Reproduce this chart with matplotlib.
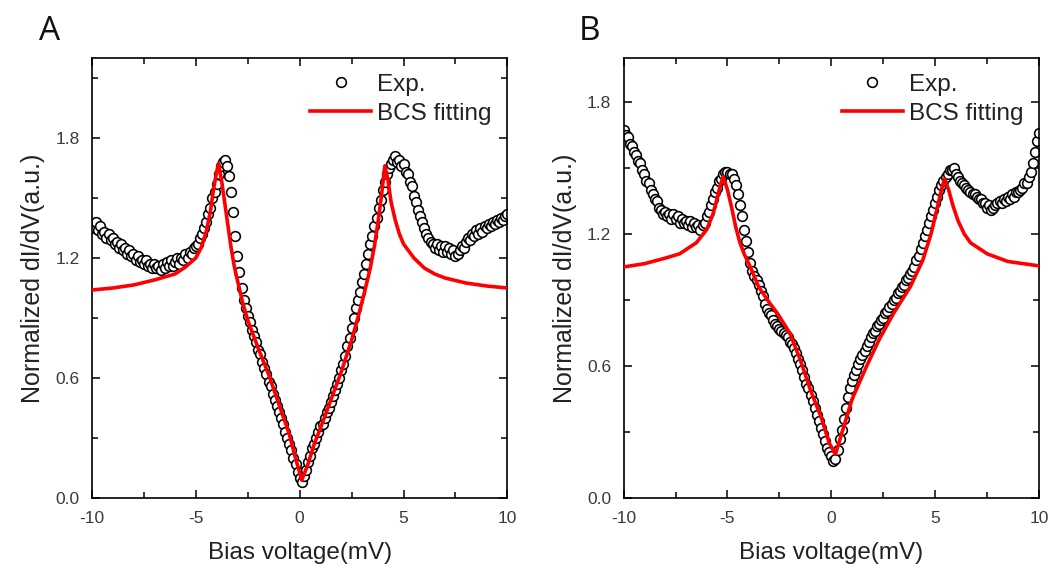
import matplotlib
matplotlib.use("Agg")
import matplotlib.pyplot as plt
from matplotlib.ticker import MultipleLocator, FormatStrFormatter

plt.rcParams['font.family'] = ['Liberation Sans', 'DejaVu Sans']
plt.rcParams['axes.unicode_minus'] = False

# -------------------------------------------------------------------
# Data
# -------------------------------------------------------------------
# bias sweep, mV (shared by both panels)
bias_mv = [
    -10.0, -9.9, -9.8, -9.7, -9.6, -9.5, -9.4, -9.3, -9.2, -9.1,
    -9.0, -8.9, -8.8, -8.7, -8.6, -8.5, -8.4, -8.3, -8.2, -8.1,
    -8.0, -7.9, -7.8, -7.7, -7.6, -7.5, -7.4, -7.3, -7.2, -7.1,
    -7.0, -6.9, -6.8, -6.7, -6.6, -6.5, -6.4, -6.3, -6.2, -6.1,
    -6.0, -5.9, -5.8, -5.7, -5.6, -5.5, -5.4, -5.3, -5.2, -5.1,
    -5.0, -4.9, -4.8, -4.7, -4.6, -4.5, -4.4, -4.3, -4.2, -4.1,
    -4.0, -3.9, -3.8, -3.7, -3.6, -3.5, -3.4, -3.3, -3.2, -3.1,
    -3.0, -2.9, -2.8, -2.7, -2.6, -2.5, -2.4, -2.3, -2.2, -2.1,
    -2.0, -1.9, -1.8, -1.7, -1.6, -1.5, -1.4, -1.3, -1.2, -1.1,
    -1.0, -0.9, -0.8, -0.7, -0.6, -0.5, -0.4, -0.3, -0.2, -0.1,
    0.0, 0.1, 0.2, 0.3, 0.4, 0.5, 0.6, 0.7, 0.8, 0.9,
    1.0, 1.1, 1.2, 1.3, 1.4, 1.5, 1.6, 1.7, 1.8, 1.9,
    2.0, 2.1, 2.2, 2.3, 2.4, 2.5, 2.6, 2.7, 2.8, 2.9,
    3.0, 3.1, 3.2, 3.3, 3.4, 3.5, 3.6, 3.7, 3.8, 3.9,
    4.0, 4.1, 4.2, 4.3, 4.4, 4.5, 4.6, 4.7, 4.8, 4.9,
    5.0, 5.1, 5.2, 5.3, 5.4, 5.5, 5.6, 5.7, 5.8, 5.9,
    6.0, 6.1, 6.2, 6.3, 6.4, 6.5, 6.6, 6.7, 6.8, 6.9,
    7.0, 7.1, 7.2, 7.3, 7.4, 7.5, 7.6, 7.7, 7.8, 7.9,
    8.0, 8.1, 8.2, 8.3, 8.4, 8.5, 8.6, 8.7, 8.8, 8.9,
    9.0, 9.1, 9.2, 9.3, 9.4, 9.5, 9.6, 9.7, 9.8, 9.9,
    10.0,
]

# panel A - measured dI/dV
exp_a = [
    1.37, 1.35, 1.38, 1.34, 1.36, 1.32, 1.33, 1.30, 1.32, 1.29,
    1.30, 1.27, 1.28, 1.25, 1.27, 1.24, 1.25, 1.22, 1.24, 1.21,
    1.22, 1.19, 1.21, 1.18, 1.19, 1.17, 1.19, 1.16, 1.17, 1.15,
    1.17, 1.15, 1.16, 1.14, 1.17, 1.15, 1.18, 1.16, 1.19, 1.16,
    1.18, 1.20, 1.17, 1.20, 1.19, 1.22, 1.20, 1.23, 1.22, 1.25,
    1.26, 1.27, 1.30, 1.32, 1.35, 1.38, 1.42, 1.45, 1.50, 1.53,
    1.57, 1.62, 1.66, 1.68, 1.69, 1.66, 1.61, 1.53, 1.43, 1.31,
    1.21, 1.13, 1.05, 0.99, 0.95, 0.91, 0.88, 0.84, 0.81, 0.78,
    0.74, 0.72, 0.68, 0.65, 0.62, 0.58, 0.56, 0.52, 0.49, 0.46,
    0.43, 0.40, 0.37, 0.33, 0.30, 0.27, 0.24, 0.20, 0.17, 0.13,
    0.10, 0.08, 0.11, 0.14, 0.18, 0.21, 0.25, 0.27, 0.30, 0.33,
    0.36, 0.37, 0.40, 0.43, 0.45, 0.48, 0.51, 0.54, 0.57, 0.60,
    0.64, 0.67, 0.71, 0.76, 0.80, 0.85, 0.90, 0.95, 0.99, 1.03,
    1.08, 1.12, 1.17, 1.22, 1.27, 1.31, 1.36, 1.40, 1.45, 1.49,
    1.54, 1.58, 1.62, 1.65, 1.67, 1.69, 1.71, 1.68, 1.69, 1.66,
    1.67, 1.63, 1.62, 1.58, 1.56, 1.51, 1.48, 1.44, 1.41, 1.38,
    1.35, 1.32, 1.30, 1.28, 1.27, 1.25, 1.27, 1.24, 1.26, 1.23,
    1.26, 1.23, 1.25, 1.22, 1.24, 1.21, 1.22, 1.24, 1.26, 1.25,
    1.28, 1.30, 1.29, 1.32, 1.31, 1.34, 1.32, 1.35, 1.33, 1.36,
    1.35, 1.37, 1.36, 1.38, 1.37, 1.39, 1.38, 1.40, 1.39, 1.41,
    1.42,
]

# panel B - measured dI/dV
exp_b = [
    1.67, 1.65, 1.64, 1.61, 1.60, 1.57, 1.56, 1.53, 1.52, 1.49,
    1.47, 1.44, 1.43, 1.40, 1.38, 1.36, 1.35, 1.32, 1.31, 1.29,
    1.30, 1.28, 1.29, 1.27, 1.29, 1.27, 1.28, 1.25, 1.27, 1.25,
    1.26, 1.24, 1.26, 1.23, 1.25, 1.23, 1.24, 1.22, 1.24, 1.25,
    1.28, 1.30, 1.33, 1.36, 1.39, 1.41, 1.44, 1.45, 1.47, 1.48,
    1.48, 1.47, 1.47, 1.45, 1.42, 1.38, 1.33, 1.28, 1.22, 1.17,
    1.12, 1.07, 1.03, 1.01, 0.99, 0.97, 0.94, 0.92, 0.88, 0.86,
    0.84, 0.83, 0.81, 0.79, 0.78, 0.77, 0.76, 0.75, 0.74, 0.73,
    0.71, 0.70, 0.68, 0.66, 0.63, 0.61, 0.58, 0.55, 0.52, 0.50,
    0.47, 0.44, 0.41, 0.38, 0.35, 0.32, 0.29, 0.26, 0.23, 0.21,
    0.19, 0.17, 0.18, 0.22, 0.27, 0.31, 0.36, 0.41, 0.46, 0.50,
    0.53, 0.56, 0.58, 0.61, 0.63, 0.65, 0.67, 0.69, 0.71, 0.73,
    0.75, 0.76, 0.78, 0.79, 0.81, 0.82, 0.84, 0.85, 0.87, 0.88,
    0.90, 0.91, 0.93, 0.94, 0.96, 0.97, 0.99, 1.00, 1.02, 1.03,
    1.05, 1.08, 1.10, 1.13, 1.16, 1.19, 1.22, 1.25, 1.28, 1.31,
    1.34, 1.37, 1.40, 1.42, 1.44, 1.46, 1.47, 1.49, 1.49, 1.50,
    1.47, 1.46, 1.44, 1.43, 1.42, 1.41, 1.40, 1.39, 1.38, 1.38,
    1.37, 1.36, 1.36, 1.34, 1.34, 1.32, 1.33, 1.31, 1.32, 1.33,
    1.34, 1.35, 1.34, 1.36, 1.35, 1.37, 1.36, 1.38, 1.37, 1.39,
    1.39, 1.40, 1.41, 1.43, 1.43, 1.46, 1.48, 1.52, 1.57, 1.62,
    1.66,
]

# BCS fitting curves
fit_a_bias = [-10.0, -9.0, -8.0, -7.0, -6.0, -5.5, -5.0, -4.75, -4.5, -4.3,
              -4.15, -4.0, -3.9, -3.75, -3.6, -3.45, -3.3, -3.15, -3.0, -2.75,
              -2.5, -2.0, -1.5, -1.0, -0.5, -0.2, 0.1, 0.4, 0.7, 1.0,
              1.5, 2.0, 2.5, 2.8, 3.1, 3.4, 3.6, 3.8, 3.95, 4.1,
              4.25, 4.4, 4.6, 4.8, 5.0, 5.5, 6.0, 6.5, 7.0, 8.0,
              9.0, 10.0]
fit_a = [1.04, 1.05, 1.065, 1.09, 1.12, 1.155, 1.20, 1.25, 1.33, 1.43,
         1.54, 1.63, 1.67, 1.58, 1.47, 1.36, 1.25, 1.16, 1.09, 0.98,
         0.89, 0.75, 0.62, 0.47, 0.32, 0.20, 0.09, 0.17, 0.27, 0.35,
         0.49, 0.63, 0.79, 0.90, 1.02, 1.15, 1.26, 1.40, 1.52, 1.66,
         1.59, 1.48, 1.39, 1.32, 1.27, 1.20, 1.15, 1.12, 1.10, 1.075,
         1.06, 1.05]

fit_b_bias = [-10.0, -9.0, -8.0, -7.3, -6.5, -6.0, -5.7, -5.5, -5.35, -5.2,
              -5.0, -4.8, -4.6, -4.4, -4.2, -3.9, -3.5, -3.0, -2.6, -2.0,
              -1.5, -1.0, -0.5, -0.1, 0.2, 0.55, 1.0, 1.7, 2.3, 3.0,
              3.8, 4.4, 4.8, 5.1, 5.3, 5.45, 5.65, 5.85, 6.1, 6.4,
              6.7, 7.5, 8.5, 10.0]
fit_b = [1.05, 1.065, 1.09, 1.11, 1.16, 1.22, 1.29, 1.36, 1.42, 1.46,
         1.40, 1.32, 1.23, 1.16, 1.11, 1.05, 0.96, 0.89, 0.84, 0.75,
         0.63, 0.49, 0.37, 0.25, 0.20, 0.31, 0.45, 0.60, 0.72, 0.84,
         0.96, 1.08, 1.20, 1.32, 1.40, 1.45, 1.40, 1.33, 1.26, 1.20,
         1.16, 1.11, 1.075, 1.055]

panels = [
    ("A", exp_a, fit_a_bias, fit_a, 2.2),
    ("B", exp_b, fit_b_bias, fit_b, 2.0),
]

# -------------------------------------------------------------------
# Figure
# -------------------------------------------------------------------
fig = plt.figure(figsize=(10.57, 5.72), dpi=100)
axes_pos = [[0.087, 0.129, 0.393, 0.77], [0.590, 0.129, 0.393, 0.77]]
label_x = [0.037, 0.548]

for i, (name, exp_y, fx, fy, ytop) in enumerate(panels):
    ax = fig.add_axes(axes_pos[i])
    ax.plot(bias_mv, exp_y, linestyle='none', marker='o', markersize=7,
            markerfacecolor='white', markeredgecolor='black',
            markeredgewidth=1.15, label='Exp.', zorder=2)
    ax.plot(fx, fy, color='#ff0000', linewidth=2.6, label='BCS fitting', zorder=3)

    ax.set_xlim(-10, 10)
    ax.set_ylim(0, ytop)
    ax.xaxis.set_major_locator(MultipleLocator(5))
    ax.xaxis.set_minor_locator(MultipleLocator(2.5))
    ax.yaxis.set_major_locator(MultipleLocator(0.6))
    ax.yaxis.set_minor_locator(MultipleLocator(0.3))
    ax.yaxis.set_major_formatter(FormatStrFormatter('%.1f'))
    ax.tick_params(which='both', direction='in', top=True, right=True,
                   width=1.1, colors='black', labelcolor='#3a3a3a',
                   labelsize=12.5)
    ax.tick_params(which='major', length=6, pad=9)
    ax.tick_params(which='minor', length=4)
    for sp in ax.spines.values():
        sp.set_linewidth(1.2)

    ax.set_xlabel('Bias voltage(mV)', fontsize=17.5, color='#222222', labelpad=12)
    ax.set_ylabel('Normalized dI/dV(a.u.)', fontsize=18, color='#222222', labelpad=7)

    ax.legend(loc='upper right', frameon=False, fontsize=17.5, numpoints=1,
              handlelength=2.5, handletextpad=0.25, labelspacing=0.3,
              borderaxespad=0.25, labelcolor='#222222')

    fig.text(label_x[i], 0.945, name, fontsize=24, family='Open Sans',
             ha='left', va='center', color='#111111')

fig.savefig('out.png', dpi=100)
